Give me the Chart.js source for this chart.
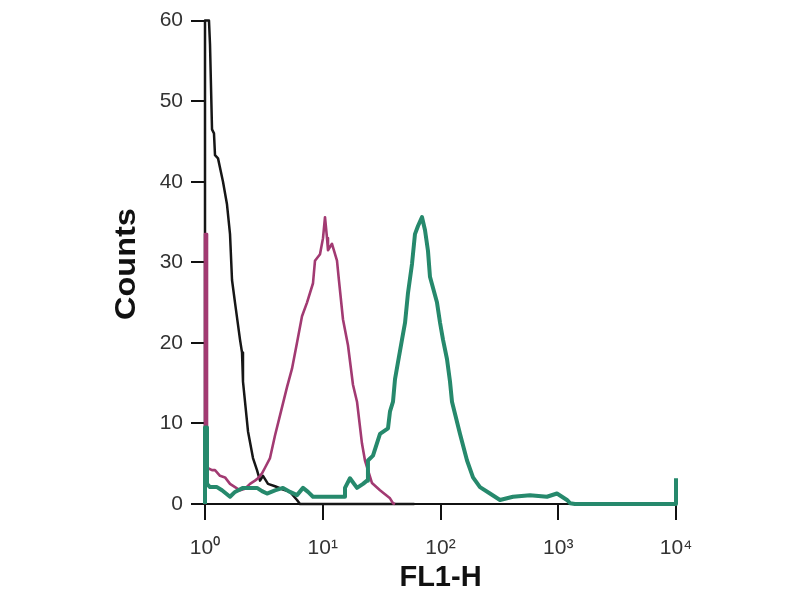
<!DOCTYPE html>
<html>
<head>
<meta charset="utf-8">
<title>FL1-H histogram</title>
<script src="https://cdn.jsdelivr.net/npm/chart.js@4.4.1/dist/chart.umd.min.js"></script>
<style>
  body { margin: 0; background: #fff; }
  #chart { display: block; }
</style>
</head>
<body>
<canvas id="chart" width="800" height="600"></canvas>
<script>
//-------------------Data-------------------
// FL1-H intensity (x) and counts (y), one pair of arrays per trace
const blackX = [1, 1, 1.081, 1.103, 1.147, 1.192, 1.216, 1.29, 1.422, 1.537, 1.631, 1.696, 1.798, 1.983, 2.062, 2.102, 2.319, 2.556, 2.764, 2.932, 3.109, 3.428, 3.931, 4.597, 5.272, 6.044, 6.409, 60];
const blackY = [0, 60, 60, 57, 46.5, 46, 43.3, 42.9, 40, 37.2, 33.5, 27.8, 25, 20.4, 18.8, 15.2, 9, 5.7, 4.2, 2.9, 3.5, 2.5, 2.2, 1.8, 1.5, 0.5, 0, 0];

const magentaX = [1, 1, 1.04, 1.04, 1.147, 1.216, 1.341, 1.479, 1.631, 1.798, 1.983, 2.186, 2.411, 2.658, 2.819, 3.049, 3.233, 3.565, 3.931, 4.335, 4.971, 5.482, 6.044, 6.665, 7.349, 8.263, 8.594, 9.476, 10.05, 10.45, 10.87, 11.08, 11.98, 13.21, 13.74, 14.86, 16.38, 18.06, 19.54, 21.54, 22.84, 26.2, 30.63, 33.78, 37.26, 39.51, 41.09];
const magentaY = [0, 33.5, 33.5, 4.5, 4.2, 4.2, 3.5, 3.3, 2.5, 2.1, 1.7, 1.9, 2.5, 2.9, 3.2, 3.8, 4.5, 5.7, 8.5, 11, 14.5, 16.8, 20, 23.3, 25, 27.4, 30.2, 31, 33, 35.6, 33, 31.5, 32.3, 30.2, 27.7, 22.9, 19.7, 14.8, 12.7, 7.5, 5.4, 2.6, 1.7, 1.2, 0.7, 0.1, 0];

const greenX = [1, 1, 1.04, 1.04, 1.103, 1.264, 1.394, 1.631, 1.798, 2.102, 2.764, 3.049, 3.362, 3.931, 4.597, 5.272, 6.044, 6.797, 7.494, 8.263, 11.52, 15.45, 15.45, 17.03, 19.54, 21.98, 23.77, 24.2, 26.71, 30.63, 35.83, 37.26, 39.51, 41.09, 43.56, 47.1, 50, 52.96, 57.28, 60.7, 64.4, 69.66, 73.84, 78.3, 81.4, 93.4, 99.1, 105, 113.5, 120.4, 125.2, 146.5, 168, 188.8, 216.4, 263, 320, 412.7, 575.4, 802, 975, 1186, 1259, 1387, 10000, 10000];
const greenY = [0, 9.5, 9.5, 2.5, 2.1, 2.1, 1.7, 0.9, 1.5, 2, 2, 1.6, 1.3, 1.7, 2, 1.5, 1.1, 2, 1.5, 0.9, 0.9, 0.9, 2, 3.2, 2, 2.5, 2.9, 5.4, 6, 8.7, 9.4, 11.5, 12.7, 15.5, 17.6, 20.4, 22.5, 26.2, 29.8, 33.5, 34.5, 35.6, 34, 31.4, 28.2, 25, 22.5, 20.4, 18, 15.2, 12.7, 8.7, 5.4, 3.3, 2.1, 1.3, 0.5, 0.9, 1.1, 0.9, 1.3, 0.5, 0.1, 0, 0, 3.2];

const xTickValues = [1, 10, 100, 1000, 10000];
const xTickLabels = ['10⁰', '10¹', '10²', '10³', '10⁴'];
const xTitle = 'FL1-H';
const yTitle = 'Counts';

//-------------------Functions-------------------
function makePoints(xs, ys){ //pair up x and y arrays for a scatter style line
  return xs.map((x, i) => ({ x: x, y: ys[i] }));
}

function traceDataset(xs, ys, color, width){
  return {
    data: makePoints(xs, ys),
    borderColor: color,
    borderWidth: width,
    pointRadius: 0,
    tension: 0,
    fill: false,
    showLine: true,
    borderJoinStyle: 'round',
    clip: 6
  };
}

// draws the two bold axis titles
const axisTitles = {
  id: 'axisTitles',
  afterDraw(chart){
    const ctx = chart.ctx;
    const area = chart.chartArea;
    ctx.save();
    ctx.fillStyle = '#111';
    ctx.font = 'bold 29px "Liberation Sans", Arial, sans-serif';
    ctx.textAlign = 'center';
    ctx.textBaseline = 'middle';
    ctx.fillText(xTitle, (area.left + area.right) / 2, 578);
    ctx.translate(area.left - 78, 264);
    ctx.rotate(-Math.PI / 2);
    ctx.scale(1.12, 1); //the counts label is a bit stretched in the original
    ctx.fillText(yTitle, 0, 0);
    ctx.restore();
  }
};

//-------------------Main Code-------------------
const tickFont = { family: '"Liberation Sans", Arial, sans-serif', size: 21 };

const chart = new Chart(document.getElementById('chart').getContext('2d'), {
  type: 'scatter',
  data: {
    datasets: [
      traceDataset(greenX, greenY, '#26896c', 4),
      traceDataset(magentaX, magentaY, '#a23a72', 2.6),
      traceDataset(blackX, blackY, '#161616', 2.5)
    ]
  },
  options: {
    responsive: false,
    animation: false,
    layout: { padding: { left: 0, right: 124, top: 13, bottom: 0 } },
    plugins: {
      legend: { display: false },
      tooltip: { enabled: false }
    },
    scales: {
      x: {
        type: 'logarithmic',
        min: 1,
        max: 10000,
        afterBuildTicks: (scale) => {
          scale.ticks = xTickValues.map(v => ({ value: v }));
        },
        afterFit: (scale) => { scale.height = 96; },
        ticks: {
          autoSkip: false,
          maxRotation: 0,
          padding: 16,
          color: '#333',
          font: tickFont,
          callback: (value, index) => xTickLabels[index]
        },
        grid: { drawOnChartArea: false, tickLength: 16, color: '#111', lineWidth: 2 },
        border: { color: '#111', width: 2 }
      },
      y: {
        min: 0,
        max: 60,
        afterFit: (scale) => { scale.width = 205; },
        ticks: {
          stepSize: 10,
          padding: 8,
          color: '#333',
          font: tickFont
        },
        grid: { drawOnChartArea: false, tickLength: 14, color: '#111', lineWidth: 2 },
        border: { color: '#2a1822', width: 2 }
      }
    }
  },
  plugins: [axisTitles]
});
</script>
</body>
</html>
